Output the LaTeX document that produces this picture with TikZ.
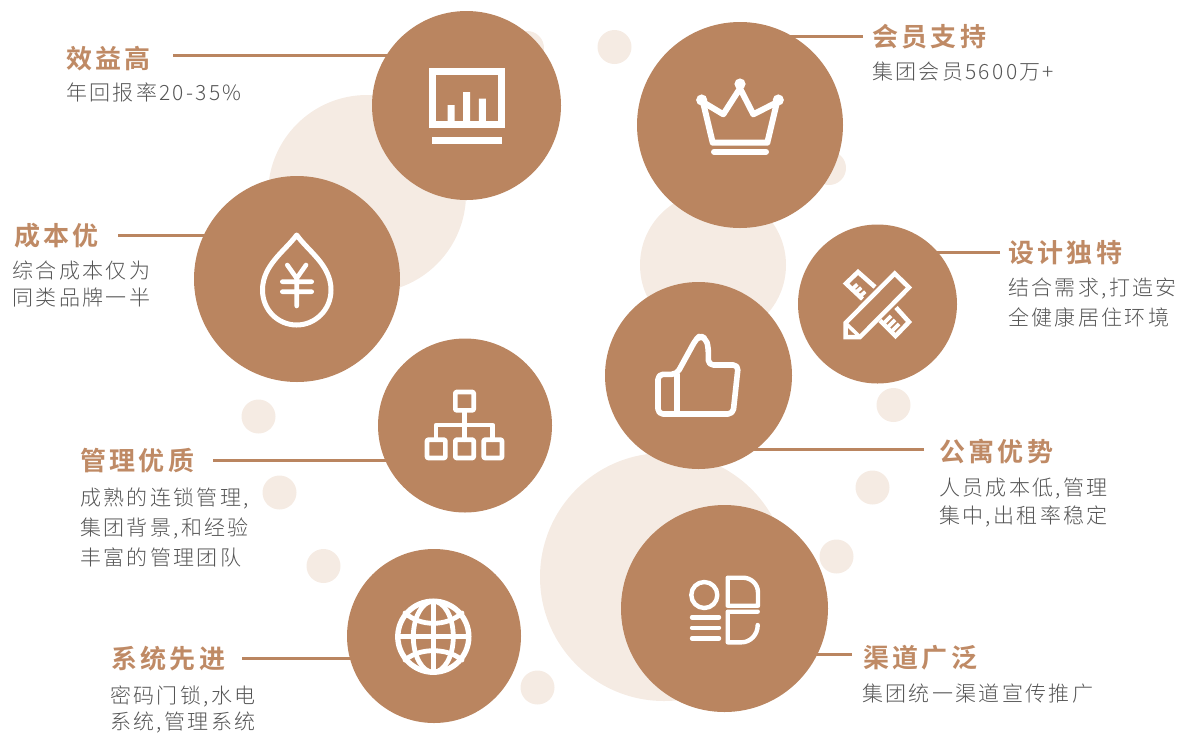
\documentclass[tikz,border=0pt]{standalone}
\usepackage{fontspec}
\newfontfamily\subfont[LetterSpace=11]{Noto Sans CJK SC Light}
\newfontfamily\headfont[LetterSpace=13]{Noto Sans CJK SC Bold}
\definecolor{brown1}{HTML}{BA8560}
\definecolor{pale1}{HTML}{F5EBE3}
\definecolor{head1}{HTML}{BF8A65}
\definecolor{body1}{HTML}{555555}
\pgfdeclarelayer{bg}
\pgfsetlayers{bg,main}
\tikzset{
  bubble/.style={circle,fill=brown1,inner sep=0pt,minimum size=#1},
  head/.style={anchor=base west,inner sep=0pt,text=head1,font=\headfont\fontsize{26}{26}\selectfont},
  sub/.style={anchor=north west,inner sep=0pt,text=body1,align=left,font=\subfont\fontsize{21}{21}\selectfont},
  conn/.style={draw=brown1,line width=3pt},
  pale/.style={fill=pale1},
  icon/.style={draw=white,line width=#1,line join=round,line cap=round},
  icon/.default=4pt
}
\begin{document}
\begin{tikzpicture}[x=1pt,y=-1pt]
\useasboundingbox (0,0) rectangle (1183,732);
% bubbles
\node[bubble=189pt] (c1) at (466.5,105.5) {};
\node[bubble=206pt] (c2) at (740,125) {};
\node[bubble=206pt] (c3) at (297,279) {};
\node[bubble=159pt] (c4) at (877.5,304) {};
\node[bubble=187pt] (c5) at (698.5,375.5) {};
\node[bubble=174pt] (c6) at (465,425.5) {};
\node[bubble=174pt] (c7) at (434,636) {};
\node[bubble=207pt] (c8) at (724.5,608.5) {};
% free ends
\coordinate (l1) at (173,55);
\coordinate (l2) at (863,36);
\coordinate (l3) at (118,235);
\coordinate (l4) at (1000,252);
\coordinate (l5) at (924,449);
\coordinate (l6) at (213,460);
\coordinate (l7) at (242,658);
\coordinate (l8) at (852,654);
\begin{pgfonlayer}{bg}
\fill[pale] (367,194) circle (99);
\fill[pale] (713,265) circle (73);
\fill[pale] (664,577) circle (124);
\foreach \p in {(527,48),(614.5,47),(829,168),(893.5,405),(872.5,487.5),(836.5,556.5),(537.5,687.5),(323.5,566),(279.5,492.5),(258.5,416.5)}
  \fill[pale] \p circle (17);
\draw[conn] (l1) -- (l1 -| c1);
\draw[conn] (l2) -- (l2 -| c2);
\draw[conn] (l3) -- (l3 -| c3);
\draw[conn] (l4) -- (l4 -| c4);
\draw[conn] (l5) -- (l5 -| c5);
\draw[conn] (l6) -- (l6 -| c6);
\draw[conn] (l7) -- (l7 -| c7);
\draw[conn] (l8) -- (l8 -| c8);
\end{pgfonlayer}
% texts
\node[head] (h1) at (66,68.5) {效益高};
\node[sub] (s1) at (66,82.5) {年回报率20-35\%};
\node[head] (h2) at (14,245.5) {成本优};
\node[sub] (s2) at (12.5,260.5) {综合成本仅为\\[6pt]同类品牌一半};
\node[head] (h3) at (80,470.5) {管理优质};
\node[sub] (s3) at (80,487.5) {成熟的连锁管理,\\[7.5pt]集团背景,和经验\\[7.5pt]丰富的管理团队};
\node[head] (h4) at (111,668.5) {系统先进};
\node[sub] (s4) at (110,685.5) {密码门锁,水电\\[4pt]系统,管理系统};
\node[head] (h5) at (872,46.5) {会员支持};
\node[sub] (s5) at (872,61.5) {集团会员5600万+};
\node[head] (h6) at (1008,262.5) {设计独特};
\node[sub] (s6) at (1008,277.5) {结合需求,打造安\\[8pt]全健康居住环境};
\node[head] (h7) at (939,461.5) {公寓优势};
\node[sub] (s7) at (939,477.5) {人员成本低,管理\\[6pt]集中,出租率稳定};
\node[head] (h8) at (863,667.5) {渠道广泛};
\node[sub] (s8) at (862,683.5) {集团统一渠道宣传推广};
% icon 1: chart
\draw[draw=white,line width=7pt] (432,71) rectangle (501.5,124);
\fill[white] (447.5,105) rectangle (454.5,124) (463.2,92) rectangle (470.2,124) (478.8,98.7) rectangle (485.8,124);
\fill[white] (432,137) rectangle (502,144);
% icon 2: crown
\draw[icon=6pt] (703.3,103.3) -- (712.7,142.7) -- (767.3,142.7) -- (776.7,103.3);
\draw[icon=6pt] (705,103.3) -- (723.3,114.3) -- (740,88.3) -- (753.3,114.3) -- (775,103.3);
\draw[icon=6pt] (714,151.7) -- (766,151.7);
\fill[white] (740,84) circle (5.6) (701.7,100) circle (5.6) (778.3,100) circle (5.6);
% icon 3: drop
\draw[icon=5pt] (296.7,235) .. controls (285,251) and (262.5,265) .. (262.5,290) .. controls (262.5,310) and (278,325) .. (296.7,325) .. controls (315,325) and (331,310) .. (331,290) .. controls (331,265) and (308,251) .. (296.7,235) -- cycle;
\draw[icon=4.6pt] (287.3,265) -- (296.7,278.3) -- (306,265) (296.7,278.3) -- (296.7,306) (282.3,281.7) -- (311.7,281.7) (282.3,291.7) -- (311.7,291.7);
% icon 4: pencil and ruler
\draw[icon=4.5pt,line cap=butt,line join=miter] (845.5,323) -- (894.7,273.5) -- (909,287.5) -- (860,337) -- (845.5,337) -- cycle;
\draw[icon=3.6pt,line cap=butt] (845.5,323) -- (860,337);
\draw[icon=4.5pt,line cap=butt,line join=miter] (862.5,299) -- (846,283.5) -- (858,272) -- (875,287);
\draw[icon=4.5pt,line cap=butt,line join=miter] (896,307.5) -- (909,322) -- (895.5,336) -- (880,320.5);
\draw[icon=3.6pt,line cap=butt] (851.3,290) -- (857.3,284.3) (854.7,293.3) -- (861.3,287.7) (858.7,297.3) -- (865.3,291.7);
\draw[icon=3.6pt,line cap=butt] (883,324) -- (891,316) (887,328) -- (895,320) (891,332) -- (899,324);
% icon 5: thumb
\draw[icon=5.6pt,rounded corners=5pt] (676.7,374.3) -- (695.5,340) -- (700,335.5) -- (706,339) -- (708.3,347) -- (708.3,365) -- (738.3,365) -- (733,414) -- (658,414) -- (658,374.3) -- cycle;
\draw[icon=5.6pt] (676.7,374.3) -- (676.7,413);
% icon 6: org chart
\draw[icon=4.6pt,rounded corners=1pt] (455.3,392) rectangle (473.7,410.3);
\draw[icon=4.6pt,rounded corners=1pt] (427,439.7) rectangle (445.3,458);
\draw[icon=4.6pt,rounded corners=1pt] (455.3,439.7) rectangle (473.7,458);
\draw[icon=4.6pt,rounded corners=1pt] (483.7,439.7) rectangle (502,458);
\draw[icon=4.6pt] (464.5,410.3) -- (464.5,439.7) (436,439.7) -- (436,425) -- (492.7,425) -- (492.7,439.7);
% icon 7: globe
\draw[icon=5.4pt] (433.3,636.7) circle (35.5);
\draw[icon=4.8pt] (433.3,601.2) -- (433.3,672.2) (398,636.7) -- (468.8,636.7);
\draw[icon=4.8pt] (433.3,636.7) ellipse (20 and 35.5);
\draw[icon=4.8pt] (405,613) .. controls (413,620) and (423,623.3) .. (433.3,623.3) .. controls (444,623.3) and (454,620) .. (462,613);
\draw[icon=4.8pt] (405,660) .. controls (413,653.5) and (423,650.7) .. (433.3,650.7) .. controls (444,650.7) and (454,653.5) .. (462,660);
% icon 8: channels
\draw[icon=4.4pt] (704.3,595) circle (13);
\draw[icon=4.4pt] (692,617.3) -- (719,617.3) (692,627.7) -- (719,627.7) (692,638.3) -- (719,638.3);
\draw[icon=4.4pt] (743,577.7) -- (727.7,577.7) -- (727.7,605.7) -- (758,605.7) -- (758,592.5) .. controls (758,584) and (751,577.7) .. (743,577.7);
\draw[icon=4.4pt] (757.7,611.7) -- (727.7,611.7) -- (727.7,642.3) -- (741.7,642.3) .. controls (750,642.3) and (757.7,635) .. (757.7,625);
\end{tikzpicture}
\end{document}
